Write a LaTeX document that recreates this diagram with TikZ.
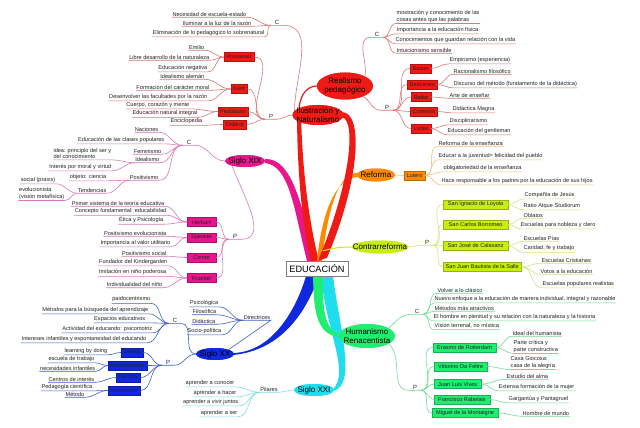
\documentclass[tikz,border=0pt]{standalone}
\usepackage{fontspec}
\setmainfont{Liberation Sans}
\usetikzlibrary{shapes.geometric,calc}
\definecolor{cRed}{HTML}{F01A14}
\definecolor{lRed}{HTML}{D87878}
\definecolor{cMag}{HTML}{E8168C}
\definecolor{lMag}{HTML}{D878B8}
\definecolor{cOra}{HTML}{FF8A00}
\definecolor{lOra}{HTML}{F2C07A}
\definecolor{cYel}{HTML}{C8EE10}
\definecolor{lYel}{HTML}{CDE680}
\definecolor{cGre}{HTML}{20EE70}
\definecolor{lGre}{HTML}{70DC98}
\definecolor{cBlu}{HTML}{1028E0}
\definecolor{lBlu}{HTML}{4060C8}
\definecolor{cCya}{HTML}{20DDEE}
\definecolor{lCya}{HTML}{80DCE4}
\definecolor{txt}{HTML}{222222}
\tikzset{
 lf/.style={font=\fontsize{5.6}{6.3}\selectfont, text=txt, inner xsep=0.5pt, inner ysep=1pt, align=left},
 lab/.style={font=\fontsize{6}{7}\selectfont, text=txt, inner sep=1pt, minimum width=12pt},
 bx/.style={fill=#1, draw=#1!75!black, line width=0.3pt, font=\fontsize{5.6}{6.3}\selectfont, text=txt, inner xsep=2.5pt, inner ysep=0pt, minimum height=9pt},
 el/.style={ellipse, fill=#1, inner sep=0pt},
 eltext/.style={font=\fontsize{8}{8.6}\selectfont, align=center, inner sep=0pt, text=black},
 ln/.style={draw=#1, line width=0.6pt}
}
\newcommand\mmL[6]{\node[lf,anchor=east] (#1) at (#2,#3) {#4};\draw[ln=#6] (#1.south west) -- (#1.south east) to[out=0,in=180] (#5);}
\newcommand\mmR[6]{\node[lf,anchor=west] (#1) at (#2,#3) {#4};\draw[ln=#6] (#5) to[out=0,in=180] (#1.south west) -- (#1.south east);}
\begin{document}
\begin{tikzpicture}[x=1pt,y=-1pt]
\useasboundingbox (0,0) rectangle (640,428);
\fill[white] (0,0) rectangle (640,428);
% central box (placed first for anchors, redrawn on top later)
\node[draw=gray, fill=white, minimum width=62pt, minimum height=15pt, inner sep=1pt, font=\fontsize{9.2}{10}\selectfont] (edu) at (317,268.5) {EDUCACIÓN};
% ellipses (shapes)
\node[el=cRed, minimum width=56pt, minimum height=27pt] (real) at (345,86) {};
\node[el=cRed, minimum width=51pt, minimum height=20pt] (ilu) at (318,115) {};
\node[el=cMag, minimum width=40pt, minimum height=12pt] (s19) at (245,161) {};
\node[el=cOra, minimum width=38pt, minimum height=13pt] (ref) at (376,175) {};
\node[el=cYel, minimum width=56pt, minimum height=13pt] (contra) at (380,247) {};
\node[el=cGre, minimum width=56pt, minimum height=24pt] (hum) at (367,336) {};
\node[el=cBlu, minimum width=38pt, minimum height=12pt] (s20) at (215,354) {};
\node[el=cCya, minimum width=40pt, minimum height=12pt] (s21) at (314,390) {};
% thick bands
\draw[cRed, line width=1.2pt] (real.west) to[out=180,in=90] ($(edu.north)+(-18,-150)$);
\fill[cMag] ($(s19.east)+(0,-2)$) .. controls (292,158) and (302,205) .. ($(edu.north)+(-2,0)$) -- ($(edu.north)+(-10,0)$) .. controls (294,210) and (290,166) .. ($(s19.east)+(0,2)$) -- cycle;
\fill[cRed] ($(edu.north)+(-20,-150)$) .. controls (297,180) and (304,235) .. ($(edu.north)+(-6,0)$) -- ($(edu.north)+(2,0)$) .. controls (312,235) and (302,180) .. ($(edu.north)+(-16,-150)$) -- cycle;
\fill[cOra] ($(ref.west)+(1,-2)$) .. controls (335,172) and (326,225) .. ($(edu.north)+(5,0)$) -- ($(edu.north)+(0,0)$) .. controls (321,220) and (333,178) .. ($(ref.west)+(1,2)$) -- cycle;
\fill[cRed] ($(ilu.east)+(-2,-3)$) .. controls (364,112) and (360,180) .. ($(edu.north)+(10,-3)$) -- ($(edu.north)+(1,0)$) .. controls (350,185) and (357,120) .. ($(ilu.east)+(-2,2)$) -- cycle;
\draw[cYel, line width=1pt] ($(edu.north)+(6,-10)$) to[out=15,in=180] (contra.west);
\fill[cBlu] ($(edu.south)+(-11,0)$) .. controls (296,310) and (272,352) .. ($(s20.east)+(-1,-1)$) -- ($(s20.east)+(-1,1)$) .. controls (282,350) and (306,312) .. ($(edu.south)+(2,0)$) -- cycle;
\fill[cCya] ($(edu.south)+(4,0)$) .. controls (326,330) and (350,372) .. ($(s21.east)+(-1,-1)$) -- ($(s21.east)+(-1,1)$) .. controls (357,385) and (340,330) .. ($(edu.south)+(16,0)$) -- cycle;
\fill[cGre] ($(edu.south)+(-4,0)$) .. controls (314,305) and (314,335) .. ($(hum.west)+(1,1)$) -- ($(hum.west)+(1,-2)$) .. controls (322,330) and (323,300) .. ($(edu.south)+(6,0)$) -- cycle;
% redraw ellipses on top with texts
\node[el=cRed, minimum width=56pt, minimum height=27pt] (realE) at (real) {};
\node[eltext] (realT) at (real) {Realismo\\pedagógico};
\node[el=cRed, minimum width=51pt, minimum height=20pt] (iluE) at (ilu) {};
\node[eltext] (iluT) at (ilu) {Ilustración y\\Naturalismo};
\node[el=cMag, minimum width=40pt, minimum height=12pt] (s19E) at (s19) {};
\node[eltext] (s19T) at (s19) {Siglo XIX};
\node[el=cOra, minimum width=38pt, minimum height=13pt] (refE) at (ref) {};
\node[eltext] (refT) at (ref) {Reforma};
\node[el=cYel, minimum width=56pt, minimum height=13pt] (contraE) at (contra) {};
\node[eltext] (contraT) at (contra) {Contrarreforma};
\node[el=cGre, minimum width=56pt, minimum height=24pt] (humE) at (hum) {};
\node[eltext] (humT) at (hum) {Humanismo\\Renacentista};
\node[el=cBlu, minimum width=38pt, minimum height=12pt] (s20E) at (s20) {};
\node[eltext] (s20T) at (s20) {Siglo XX};
\node[el=cCya, minimum width=40pt, minimum height=12pt] (s21E) at (s21) {};
\node[eltext] (s21T) at (s21) {Siglo XXI};
\node[draw=gray, fill=white, minimum width=62pt, minimum height=15pt, inner sep=1pt, font=\fontsize{9.2}{10}\selectfont] (eduT) at (edu) {EDUCACIÓN};

% ===== Ilustración y Naturalismo =====
\node[lab] (ilC) at (277,22) {C};
\draw[ln=lRed] (ilC.south west) -- (ilC.south east) to[out=0,in=90] (ilu.170);
\mmL{il1}{247}{14}{Necesidad de escuela-estado}{ilC.south west}{lRed}
\mmL{il2}{252}{23}{Iluminar a la luz de la razón}{ilC.south west}{lRed}
\mmL{il3}{265}{33}{Eliminación de lo pedagógico lo sobrenatural}{ilC.south west}{lRed}
\node[lab] (ilP) at (271,116) {P};
\draw[ln=lRed] (ilP.south west) -- (ilP.south east) to[out=0,in=180] (ilu.west);
\node[bx=cRed] (rou) at (239,57) {Rousseau};
\node[bx=cRed] (kant) at (239,89) {Kant};
\node[bx=cRed] (pes) at (233,111.5) {Pestalozzi};
\node[bx=cRed] (did) at (235,124.5) {Diderot};
\foreach \b in {rou,kant,pes,did} \draw[ln=lRed] (\b.east) to[out=0,in=180] (ilP.south west);
\mmL{r1}{205}{47}{Emilio}{rou.west}{lRed}
\mmL{r2}{210}{57}{Libre desarrollo de la naturaleza}{rou.west}{lRed}
\mmL{r3}{208}{68}{Educación negativa}{rou.west}{lRed}
\mmL{k1}{205}{76}{Idealismo alemán}{kant.west}{lRed}
\mmL{k2}{210}{87}{Formación del carácter moral}{kant.west}{lRed}
\mmL{k3}{208}{97}{Desenvolver las facultades por la razón}{kant.west}{lRed}
\mmL{p1}{190}{105}{Cuerpo, corazón y mente}{pes.west}{lRed}
\mmL{p2}{198}{113.5}{Educación natural integral}{pes.west}{lRed}
\mmL{d1}{203}{121.5}{Enciclopedia}{did.west}{lRed}

% ===== Realismo pedagógico =====
\node[lab] (reC) at (377,34) {C};
\draw[ln=lRed] (real.north east) to[out=80,in=180] (reC.south west) -- (reC.south east);
\mmR{rc1}{396}{16.5}{mostración y conocimiento de las\\cosas antes que las palabras}{reC.south east}{lRed}
\mmR{rc2}{396}{30}{Importancia a la educación física}{reC.south east}{lRed}
\mmR{rc3}{395}{40}{Conocimientos que guardan relación con la vida}{reC.south east}{lRed}
\mmR{rc4}{396}{50}{Intuicionismo sensible}{reC.south east}{lRed}
\node[lab] (reP) at (387,107) {P};
\draw[ln=lRed] (real.-30) to[out=-30,in=180] (reP.south west) -- (reP.south east);
\node[bx=cRed,anchor=west] (bac) at (410,68.5) {Bacon};
\node[bx=cRed,anchor=west] (des) at (407,84.5) {Descartes};
\node[bx=cRed,anchor=west] (rat) at (411,97) {Ratke};
\node[bx=cRed,anchor=west] (com) at (410,111.5) {Comenio};
\node[bx=cRed,anchor=west] (loc) at (411,128.5) {Locke};
\foreach \b in {bac,des,rat,com,loc} \draw[ln=lRed] (reP.south east) to[out=0,in=180] (\b.west);
\mmR{b1}{449}{60}{Empirismo (experiencia)}{bac.east}{lRed}
\mmR{de1}{453}{71}{Racionalismo filosófico}{des.east}{lRed}
\mmR{de2}{453}{84}{Discurso del método (fundamento de la didáctica)}{des.east}{lRed}
\mmR{ra1}{449}{95}{Arte de enseñar}{rat.east}{lRed}
\mmR{co1}{452}{109}{Didáctica Magna}{com.east}{lRed}
\mmR{lo1}{449}{121}{Disciplinarismo}{loc.east}{lRed}
\mmR{lo2}{447}{131}{Educación del gentleman}{loc.east}{lRed}

% ===== Siglo XIX =====
\node[lab] (sC) at (189,142) {C};
\draw[ln=lMag] (sC.south west) -- (sC.south east) to[out=0,in=180] (s19.west);
\mmL{n1}{159}{129}{Naciones}{sC.south west}{lMag}
\mmL{n2}{165}{140}{Educación de las clases populares}{sC.south west}{lMag}
\mmL{n3}{162}{151}{Feminismo}{sC.south west}{lMag}
\mmL{n4}{160}{159.5}{Idealismo}{sC.south west}{lMag}
\mmL{n5}{159}{177}{Positivismo}{sC.south west}{lMag}
\mmL{i1}{112}{153.5}{idea: principio del ser y\\del conocimiento}{n4.south west}{lMag}
\mmL{i2}{112}{167}{Interés por moral y virtud}{n4.south west}{lMag}
\mmL{q1}{107}{177}{objeto: ciencia}{n5.south west}{lMag}
\mmL{q2}{107}{190}{Tendencias}{n5.south west}{lMag}
\mmL{t1}{56}{180}{social (praxis)}{q2.south west}{lMag}
\mmL{t2}{65}{193.5}{evolucionista\\(visión metafísica)}{q2.south west}{lMag}
\node[lab] (sP) at (235,236) {P};
\draw[ln=lMag] (sP.south west) -- (sP.south east) to[out=0,in=-70] (s19.200);
\node[bx=cMag, minimum width=29pt] (her) at (201.5,222) {Herbart};
\node[bx=cMag, minimum width=29pt] (spe) at (201.5,237.5) {Spencer};
\node[bx=cMag, minimum width=29pt] (cmt) at (201.5,257.5) {Comte};
\node[bx=cMag, minimum width=29pt] (fro) at (201.5,278) {Froebel};
\foreach \b in {her,spe,cmt,fro} \draw[ln=lMag] (\b.east) to[out=0,in=180] (sP.south west);
\mmL{h1}{165}{203}{Primer sistema de la teoría educativa}{her.west}{lMag}
\mmL{h2}{167}{211.5}{Concepto fundamental: educabilidad}{her.west}{lMag}
\mmL{h3}{164}{220}{Ética y Psicología}{her.west}{lMag}
\mmL{sp1}{167}{233}{Positivismo evolucionista}{spe.west}{lMag}
\mmL{sp2}{171}{243}{Importancia al valor utilitario}{spe.west}{lMag}
\mmL{cm1}{167}{253}{Positivismo social}{cmt.west}{lMag}
\mmL{f1}{168}{262}{Fundador del Kindergarden}{fro.west}{lMag}
\mmL{f2}{167}{272.5}{Imitación en niño poderosa}{fro.west}{lMag}
\mmL{f3}{163}{284.5}{Individualidad del niño}{fro.west}{lMag}

% ===== Reforma =====
\node[bx=cOra] (lut) at (414.5,175.5) {Lutero};
\draw[ln=lOra] (ref.east) -- (lut.west);
\mmR{lu1}{438}{143}{Reforma de la enseñanza}{lut.east}{lOra}
\mmR{lu2}{438}{156}{Educar a la juventud= felicidad del pueblo}{lut.east}{lOra}
\mmR{lu3}{443}{168}{obligatoriedad de la enseñanza}{lut.east}{lOra}
\mmR{lu4}{441}{181}{Hace responsable a los padres por la educación de sus hijos}{lut.east}{lOra}

% ===== Contrarreforma =====
\node[lab] (cP) at (427,242) {P};
\draw[ln=lYel] (contra.east) to[out=0,in=180] (cP.south west) -- (cP.south east);
\node[bx=cYel,anchor=west,minimum width=65pt] (loy) at (443,204.5) {San Ignacio de Loyola};
\node[bx=cYel,anchor=west,minimum width=65pt] (bor) at (443,224.5) {San Carlos Borromeo};
\node[bx=cYel,anchor=west,minimum width=65pt] (cal) at (443,245.5) {San José de Calasanz};
\node[bx=cYel,anchor=west,minimum width=74pt] (sal) at (443,266.5) {San Juan Bautista de la Salle};
\foreach \b in {loy,bor,cal,sal} \draw[ln=lYel] (cP.south east) to[out=0,in=180] (\b.west);
\mmR{cy1}{524}{195}{Compañía de Jesús}{loy.east}{lYel}
\mmR{cy2}{523}{206}{Ratio Atque Studiorum}{loy.east}{lYel}
\mmR{cb1}{523}{215}{Oblatos}{bor.east}{lYel}
\mmR{cb2}{520}{225}{Escuelas para nobleza y clero}{bor.east}{lYel}
\mmR{cc1}{523}{238}{Escuelas Pías}{cal.east}{lYel}
\mmR{cc2}{523}{248.5}{Caridad, fe y trabajo}{cal.east}{lYel}
\mmR{cs1}{541}{260}{Escuelas Cristianas}{sal.east}{lYel}
\mmR{cs2}{540}{271}{Votos a la educación}{sal.east}{lYel}
\mmR{cs3}{542}{284}{Escuelas populares realistas}{sal.east}{lYel}

% ===== Humanismo Renacentista =====
\node[lab] (hC) at (417,311) {C};
\draw[ln=lGre] (hum.20) to[out=40,in=180] (hC.south west) -- (hC.south east);
\mmR{hc1}{437}{290}{Volver a lo clásico}{hC.south east}{lGre}
\mmR{hc2}{434}{299}{Nuevo enfoque a la educación de manera individual, integral y razonable}{hC.south east}{lGre}
\mmR{hc3}{434}{308}{Métodos más atractivos}{hC.south east}{lGre}
\mmR{hc4}{433}{317}{El hombre en plenitud y su relación con la naturaleza y la historia}{hC.south east}{lGre}
\mmR{hc5}{434}{326}{Visión terrenal, no mística}{hC.south east}{lGre}
\node[lab] (hP) at (415,387) {P};
\draw[ln=lGre] (hum.-20) to[out=-40,in=180] (hP.south west) -- (hP.south east);
\node[bx=cGre,anchor=west,inner xsep=4pt] (era) at (433,347.5) {Erasmo de Rotterdam};
\node[bx=cGre,anchor=west,inner xsep=4pt] (vit) at (434,366.5) {Vittorino Da Feltre};
\node[bx=cGre,anchor=west,inner xsep=4pt] (viv) at (434,384) {Juan Luis Vives};
\node[bx=cGre,anchor=west,inner xsep=4pt] (rab) at (434,399.5) {Francisco Rabelais};
\node[bx=cGre,anchor=west,inner xsep=4pt] (mon) at (432,413) {Miguel de la Montaigne};
\foreach \b in {era,vit,viv,rab,mon} \draw[ln=lGre] (hP.south east) to[out=0,in=180] (\b.west);
\mmR{e1}{512}{333}{Ideal del humanista}{era.east}{lGre}
\mmR{e2}{513}{346.5}{Parte crítica y\\parte constructiva}{era.east}{lGre}
\mmR{v1}{510}{362.5}{Casa Giocosa:\\casa de la alegría}{vit.east}{lGre}
\mmR{vv1}{506}{376}{Estudio del alma}{viv.east}{lGre}
\mmR{vv2}{498}{387}{Extensa formación de la mujer}{viv.east}{lGre}
\mmR{ra2}{508}{399}{Gargantúa y Pantagruel}{rab.east}{lGre}
\mmR{m1}{522}{413}{Hombre de mundo}{mon.east}{lGre}

% ===== Siglo XX =====
\node[lf] (dir) at (257,317) {Directrices};
\draw[ln=lBlu] (dir.south west) -- (dir.south east) -- (s20.north east);
\mmL{di1}{219}{303}{Psicológica}{dir.south west}{lBlu}
\mmL{di2}{217}{311.5}{Filosófica}{dir.south west}{lBlu}
\mmL{di3}{216}{321}{Didáctica}{dir.south west}{lBlu}
\mmL{di4}{222}{331}{Socio-política}{dir.south west}{lBlu}
\node[lab] (xC) at (175,320) {C};
\draw[ln=lBlu] (xC.south west) -- (xC.south east) to[out=0,in=180] (s20.west);
\mmL{xc1}{151}{299.5}{paidocentrismo}{xC.south west}{lBlu}
\mmL{xc2}{149}{310}{Métodos para la búsqueda del aprendizaje}{xC.south west}{lBlu}
\mmL{xc3}{146}{319}{Espacios educativos}{xC.south west}{lBlu}
\mmL{xc4}{153}{329}{Actividad del educando: psicomotriz}{xC.south west}{lBlu}
\mmL{xc5}{147}{339}{Intereses infantiles y espontaneidad del educando}{xC.south west}{lBlu}
\node[lab] (xP) at (168,362) {P};
\draw[ln=lBlu] (xP.south west) -- (xP.south east) to[out=0,in=180] (s20.west);
\node[bx=cBlu] (dew) at (132,352.5) {Dewey};
\node[bx=cBlu] (ker) at (127.5,365.5) {Kerchesteiner};
\node[bx=cBlu] (dec) at (128.5,377.5) {Decroly};
\node[bx=cBlu] (mot) at (124,390.5) {Montessori};
\foreach \b in {dew,ker,dec,mot} \draw[ln=lBlu] (\b.east) to[out=0,in=180] (xP.south west);
\mmL{dw1}{108}{351}{learning by doing}{dew.west}{lBlu}
\mmL{kr1}{95}{359}{escuela de trabajo}{ker.west}{lBlu}
\mmL{kr2}{96}{368}{necesidades infantiles}{ker.west}{lBlu}
\mmL{dc1}{95}{379}{Centros de interés}{dec.west}{lBlu}
\mmL{mt1}{93}{387}{Pedagogía científica}{mot.west}{lBlu}
\mmL{mt2}{85}{394}{Método}{mot.west}{lBlu}

% ===== Siglo XXI =====
\node[lf] (pil) at (269,389) {Pilares};
\draw[ln=lCya] (pil.south west) -- (pil.south east) to[out=0,in=180] (s21.west);
\mmL{a1}{235}{383}{aprender a conocer}{pil.south west}{lCya}
\mmL{a2}{237}{393}{aprender a hacer}{pil.south west}{lCya}
\mmL{a3}{239}{402}{aprender a vivir juntos}{pil.south west}{lCya}
\mmL{a4}{238}{413}{aprender a ser}{pil.south west}{lCya}
\end{tikzpicture}
\end{document}
